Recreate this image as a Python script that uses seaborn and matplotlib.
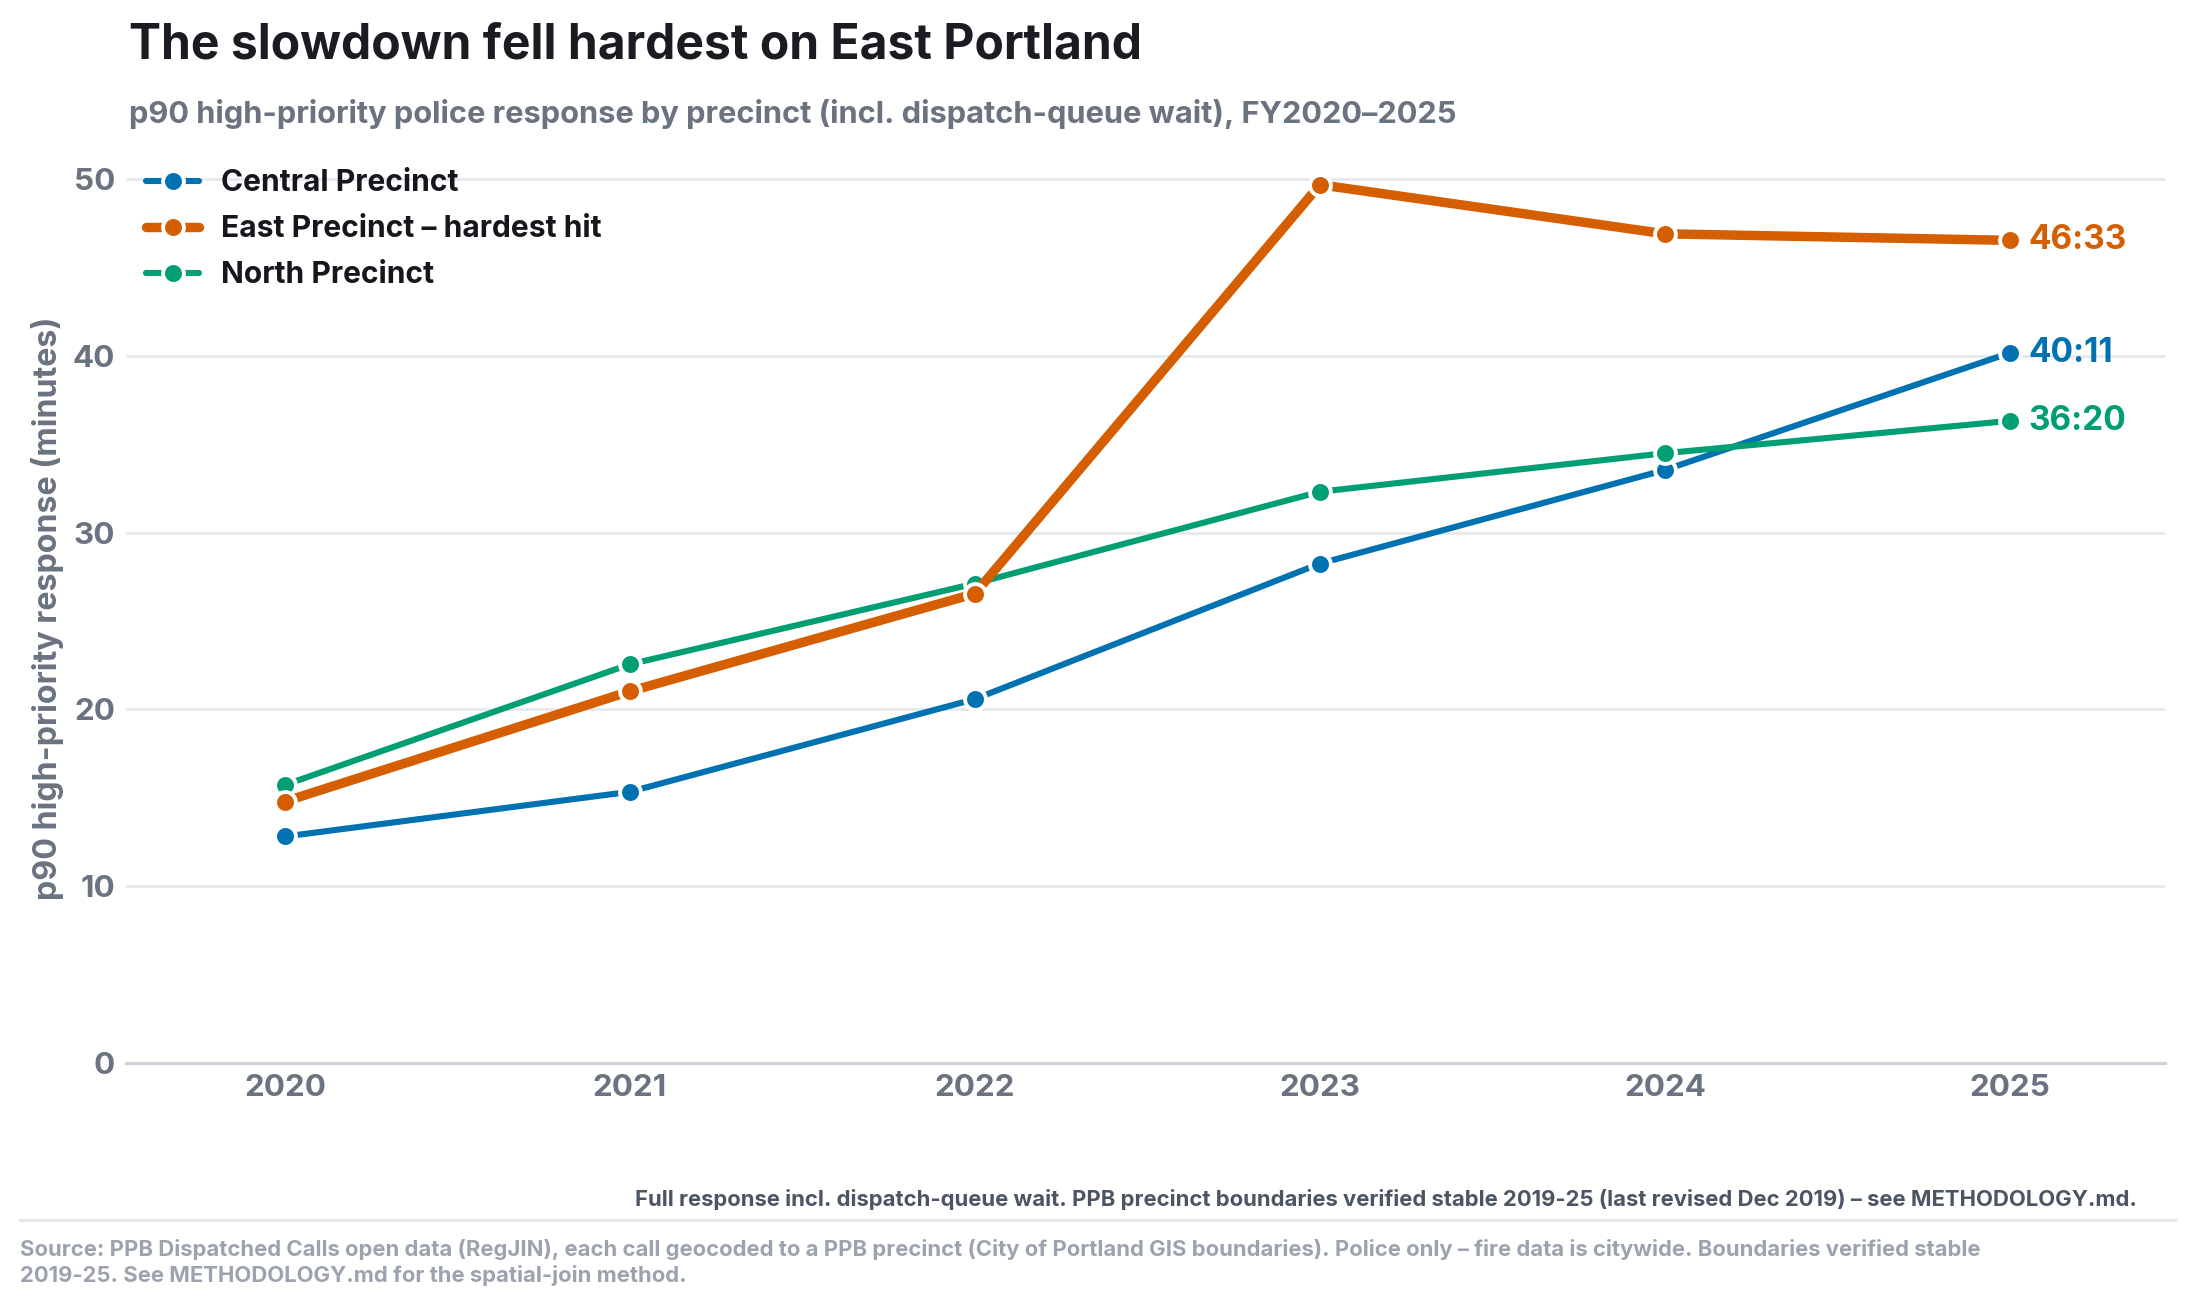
import matplotlib
matplotlib.use("Agg")
import matplotlib.pyplot as plt
import seaborn as sns
import pandas as pd

# p90 high-priority response (minutes) by precinct, FY2020-2025
years = [2020, 2021, 2022, 2023, 2024, 2025]
central = [12.8, 15.33, 20.58, 28.25, 33.55, 40.18]
east = [14.78, 21.02, 26.55, 49.7, 46.92, 46.55]
north = [15.72, 22.55, 27.12, 32.32, 34.5, 36.33]

series_names = ["Central Precinct", "East Precinct – hardest hit", "North Precinct"]
end_labels = ["40:11", "46:33", "36:20"]
colors = ["#0072B2", "#D55E00", "#009E73"]
widths = [2.2, 3.4, 2.2]

ytick_vals = [0, 10, 20, 30, 40, 50]

df = pd.DataFrame({
    "year": years * 3,
    "minutes": central + east + north,
    "precinct": [series_names[0]] * 6 + [series_names[1]] * 6 + [series_names[2]] * 6,
})

sns.set_theme(style="white")
plt.rcParams["font.family"] = ["Inter", "DejaVu Sans"]
plt.rcParams["font.weight"] = "bold"

fig = plt.figure(figsize=(10.935, 6.535), dpi=200)
ax = fig.add_axes([0.0577, 0.187, 0.9323, 0.696])

for name, col, lw in zip(series_names, colors, widths):
    sub = df[df["precinct"] == name]
    sns.lineplot(data=sub, x="year", y="minutes", ax=ax, color=col, linewidth=lw,
                 marker="o", markersize=7.5, markeredgecolor="white",
                 markeredgewidth=1.4, label=name, zorder=3 if lw > 3 else 2)

# end-of-line value labels
for name, col, lab in zip(series_names, colors, end_labels):
    sub = df[df["precinct"] == name]
    ax.annotate(lab, xy=(sub["year"].iloc[-1], sub["minutes"].iloc[-1]),
                xytext=(6.5, 0), textcoords="offset points", va="center", ha="left",
                color=col, fontsize=12, fontweight="bold")

ax.set_xlim(2019.54, 2025.45)
ax.set_ylim(0, 51.5)
ax.set_xticks(years)
ax.set_xticklabels([str(y) for y in years])
ax.set_yticks(ytick_vals)
ax.tick_params(axis="both", colors="#6b7280", labelsize=11.3, length=0)
ax.tick_params(axis="x", pad=4)
ax.tick_params(axis="y", pad=4)
for lab in ax.get_xticklabels() + ax.get_yticklabels():
    lab.set_fontweight("bold")

ax.grid(axis="y", color="#e6e8ec", linewidth=1.0)
ax.set_axisbelow(True)
for s in ["top", "right", "left"]:
    ax.spines[s].set_visible(False)
ax.spines["bottom"].set_color("#cfd3da")
ax.spines["bottom"].set_linewidth(1.2)

ax.set_xlabel("")
ax.set_ylabel("p90 high-priority response (minutes)", color="#6b7280",
              fontsize=11.6, fontweight="bold", labelpad=3)

leg = ax.legend(loc="upper left", bbox_to_anchor=(0.004, 0.995), frameon=False,
                fontsize=10.8, handlelength=1.75, handletextpad=0.75,
                labelspacing=0.6, borderaxespad=0.0)
for t in leg.get_texts():
    t.set_color("#15171c")
    t.set_fontweight("bold")

fig.text(0.059, 0.955, "The slowdown fell hardest on East Portland", fontsize=17.3,
         fontweight="bold", color="#1a1c21", ha="left", va="baseline")
fig.text(0.059, 0.906, "p90 high-priority police response by precinct (incl. dispatch-queue wait), FY2020–2025",
         fontsize=11.1, fontweight="bold", color="#6b7280", ha="left", va="baseline")

fig.text(0.977, 0.077,
         "Full response incl. dispatch-queue wait. PPB precinct boundaries verified stable 2019-25 (last revised Dec 2019) – see METHODOLOGY.md.",
         fontsize=7.95, fontweight="bold", color="#4b5563", ha="right", va="baseline")
fig.add_artist(plt.Line2D([0.009, 0.995], [0.0665, 0.0665], color="#e6e8ec", linewidth=1.2,
                          transform=fig.transFigure))
fig.text(0.009, 0.052,
         "Source: PPB Dispatched Calls open data (RegJIN), each call geocoded to a PPB precinct (City of Portland GIS boundaries). Police only – fire data is citywide. Boundaries verified stable\n2019-25. See METHODOLOGY.md for the spatial-join method.",
         fontsize=7.95, fontweight="bold", color="#9ca3af", ha="left", va="top", linespacing=1.3)

fig.savefig("out.png", dpi=200)
